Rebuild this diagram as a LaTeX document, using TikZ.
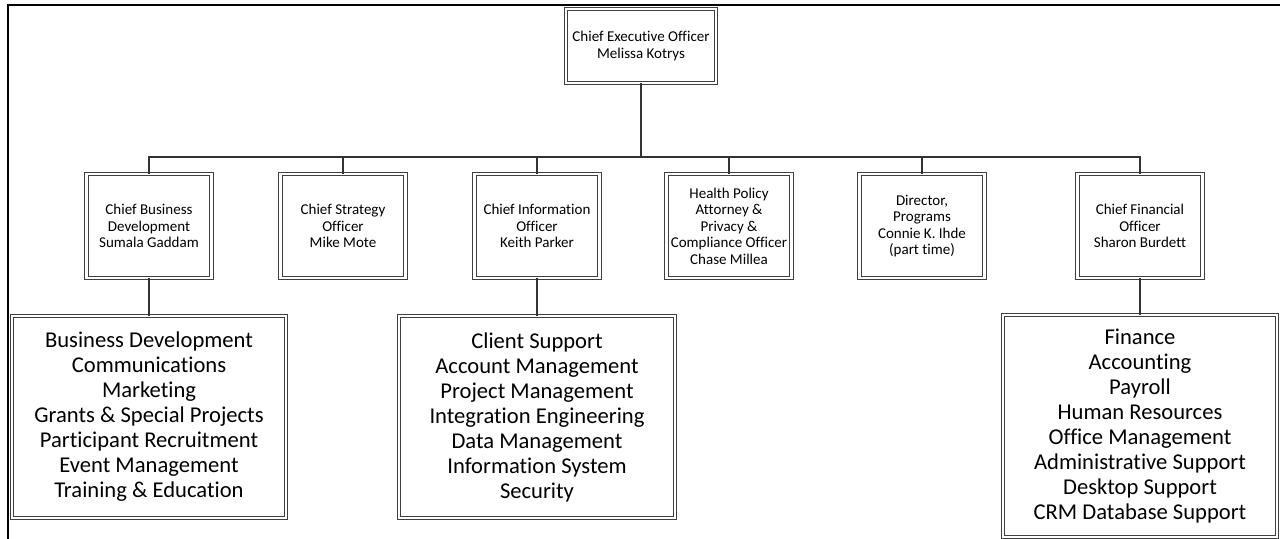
\documentclass[tikz,border=0pt]{standalone}
\usepackage{fontspec}
\setmainfont{Carlito}[Ligatures=NoCommon]
\usetikzlibrary{positioning}

\begin{document}
\begin{tikzpicture}[
  x=0.5pt, y=-0.5pt,
  post/.style  = {rectangle, draw=black!75, double=white, double distance=1.2pt, line width=0.45pt,
                  align=center, inner sep=1pt, minimum width=62.5pt, minimum height=52pt,
                  font=\fontsize{7.5}{8.25}\selectfont},
  unit/.style  = {post, minimum width=137pt, minimum height=101pt, font=\fontsize{11.3}{12.5}\selectfont},
  link/.style  = {line width=0.75pt, black!80},
  ]
  \useasboundingbox (0,0) rectangle (1280,539);
  % Frame
  \draw[line width=1pt] (8,539) -- (8,5) -- (1280,5);

  % Chief executive
  \node (ceo) at (641,46)	[post, minimum width=75pt, minimum height=37pt]	{Chief Executive Officer\\Melissa Kotrys};
  % Officers
  \node (cbd) at (149,226)	[post]	{Chief Business\\Development\\Sumala Gaddam};
  \node (cso) at (343,226)	[post]	{Chief Strategy\\Officer\\Mike Mote};
  \node (cio) at (537,226)	[post]	{Chief Information\\Officer\\Keith Parker};
  \node (hpa) at (729,226)	[post]	{Health Policy\\Attorney \&\\Privacy \&\\Compliance Officer\\Chase Millea};
  \node (dir) at (922,226)	[post]	{Director,\\Programs\\Connie K. Ihde\\(part time)};
  \node (cfo) at (1140,226)	[post]	{Chief Financial\\Officer\\Sharon Burdett};
  % Units
  \node (bdu) at (149,417)	[unit]	{Business Development\\Communications\\Marketing\\Grants \& Special Projects\\Participant Recruitment\\Event Management\\Training \& Education};
  \node (itu) at (537,417)	[unit, minimum width=138pt]	{Client Support\\Account Management\\Project Management\\Integration Engineering\\Data Management\\Information System\\Security};
  \node (fnu) at (1140,426)	[unit, minimum height=111pt]	{Finance\\Accounting\\Payroll\\Human Resources\\Office Management\\Administrative Support\\Desktop Support\\CRM Database Support};

  % Reporting lines
  \coordinate (bar) at (641,157);
  \draw[link]
  (ceo.south)	-- (bar)
  (cbd.north)	|- (bar) -| (cfo.north)
  (cso.north)	-- (cso.north |- bar)
  (cio.north)	-- (cio.north |- bar)
  (hpa.north)	-- (hpa.north |- bar)
  (dir.north)	-- (dir.north |- bar);
  \draw[link]
  (cbd.south)	-- (bdu.north)
  (cio.south)	-- (itu.north)
  (cfo.south)	-- (fnu.north);
\end{tikzpicture}
\end{document}
